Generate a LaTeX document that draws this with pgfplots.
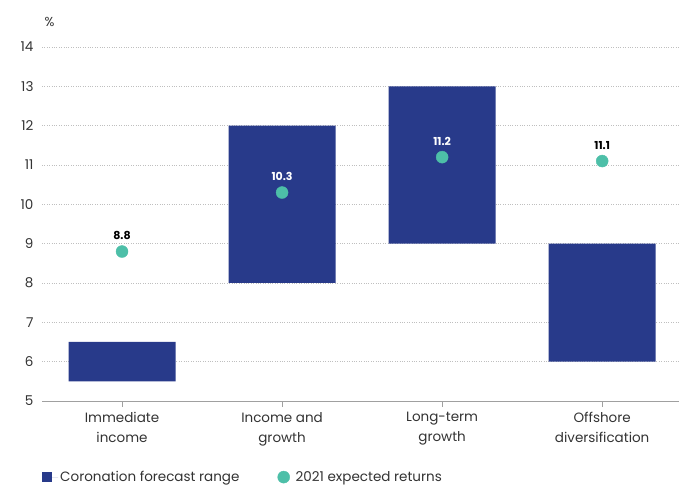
\documentclass[border=0pt]{standalone}
\usepackage{pgfplots}
\pgfplotsset{compat=1.18}
\usepackage{fontspec}
\setmainfont{Poppins}
\usetikzlibrary{calc}
\definecolor{barblue}{HTML}{283A8A}
\definecolor{dotteal}{HTML}{4DBFA8}
\definecolor{txt}{HTML}{333333}
\definecolor{axgray}{HTML}{A0A0A0}
\pgfplotsset{common/.style={
  scale only axis,
  width=637pt, height=354pt,
  xmin=-0.5, xmax=3.48,
  ymin=5, ymax=14,
  clip=false,
},
dots/.style={only marks, mark=*, mark size=6pt, color=dotteal,
  mark options={fill=dotteal, draw=dotteal},
  nodes near coords, point meta=explicit symbolic,
  every node near coord/.append style={font=\bfseries\fontsize{11}{13}\selectfont, text=#1, anchor=south, yshift=8pt}}
}
\begin{document}
\begin{tikzpicture}
\begin{axis}[
  common,
  name=ax,
  ytick={5,6,...,14},
  xtick={0,1,2,3},
  xticklabels={Immediate\\income, Income and\\growth, Long-term\\growth, Offshore\\diversification},
  x tick label style={align=center, font=\fontsize{13.5}{19.5}\selectfont, text=txt, yshift=-2pt},
  y tick label style={font=\fontsize{13.5}{15}\selectfont, text=txt, xshift=1pt},
  /pgf/number format/assume math mode=true,
  axis x line*=bottom,
  axis y line*=left,
  y axis line style={draw=none},
  x axis line style={axgray, line width=0.8pt, -},
  xtick style={axgray, line width=0.8pt},
  ytick style={draw=none},
  major tick length=6pt,
  tick align=outside,
  ymajorgrids,
  major grid style={dotted, gray!50, line width=0.8pt},
  ybar stacked,
  bar width=107pt,
  legend columns=2,
  legend style={at={(rel axis cs:0,-0.215)}, anchor=west, draw=none, font=\fontsize{13.5}{15}\selectfont, text=txt, inner sep=0pt,
    /tikz/every even column/.append style={column sep=36pt}},
  legend cell align=left,
]
\addplot[fill=none, draw=none, forget plot] coordinates {(0,5.5) (1,8) (2,9) (3,6)};
\addplot[fill=barblue, draw=none, area legend,
  legend image code/.code={\fill[barblue] (0pt,-5pt) rectangle (10pt,5pt); \path[draw=none] (0pt,0pt) -- (16pt,0pt);}]
  coordinates {(0,1.0) (1,4) (2,4) (3,3)};
\addlegendentry{Coronation forecast range}
\addlegendimage{legend image code/.code={\fill[dotteal] (5pt,0pt) circle (6pt); \path[draw=none] (0pt,0pt) -- (15pt,0pt);}}
\addlegendentry{2021 expected returns}
\node[anchor=south west, font=\fontsize{13}{15}\selectfont, text=txt] at ($(rel axis cs:0,1)+(-1pt,17pt)$) {\%};
\end{axis}
\begin{axis}[
  common,
  axis lines=none,
  xtick=\empty, ytick=\empty,
]
\addplot[dots=black] coordinates {(0,8.8)[8.8] (3,11.1)[11.1]};
\addplot[dots=white] coordinates {(1,10.3)[10.3] (2,11.2)[11.2]};
\end{axis}
\pgfresetboundingbox
\path[use as bounding box] ($(ax.south west)+(-42pt,-85pt)$) rectangle ($(ax.south west)+(637pt,401pt)$);
\end{tikzpicture}
\end{document}
